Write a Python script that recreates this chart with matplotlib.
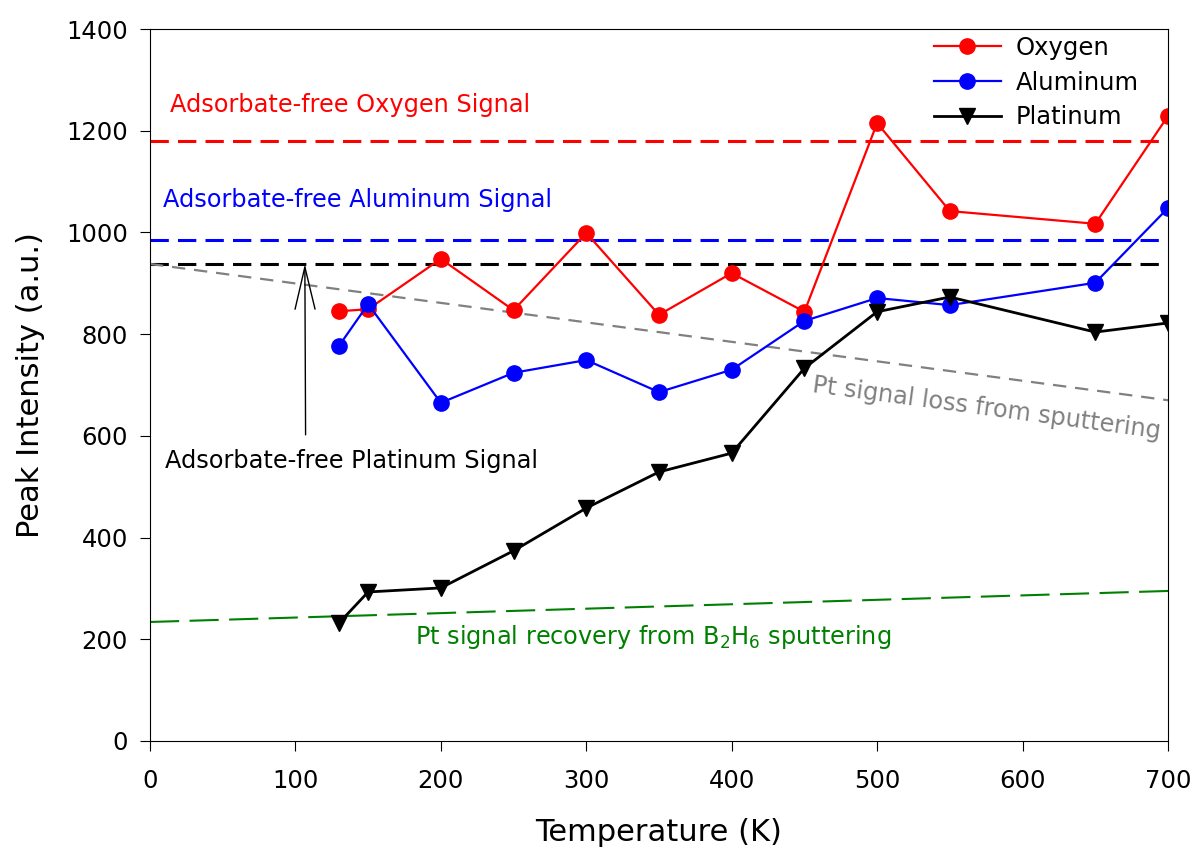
import numpy as np
import matplotlib
matplotlib.use('Agg')
import matplotlib.pyplot as plt

# temperatures (K)
temps = [130, 150, 200, 250, 300, 350, 400, 450, 500, 550, 650, 700]

# peak intensities (a.u.)
oxygen = [845, 849, 948, 847, 999, 838, 920, 844, 1215, 1042, 1017, 1229]
aluminum = [777, 859, 665, 724, 749, 686, 730, 826, 871, 857, 901, 1048]
platinum = [232, 293, 301, 374, 458, 529, 566, 733, 844, 873, 804, 822]

# adsorbate-free reference levels
ox_free = 1180
al_free = 985
pt_free = 938

# trend lines (start at 0 K, end at 700 K)
loss_x = [0, 700]
loss_y = [938, 670]
recovery_x = [0, 700]
recovery_y = [234, 295]

fig = plt.figure(figsize=(11.95, 8.48), dpi=100)
ax = fig.add_axes([0.1255, 0.1262, 0.8519, 0.8396])

ax.axhline(ox_free, color='red', lw=2.2, dashes=(6, 3))
ax.axhline(al_free, color='blue', lw=2.2, dashes=(6, 3))
ax.axhline(pt_free, color='black', lw=2.2, dashes=(6, 3))
ax.plot(loss_x, loss_y, color='gray', lw=1.6, dashes=(6, 4))
ax.plot(recovery_x, recovery_y, color='green', lw=1.5, dashes=(14, 5))

ax.plot(temps, oxygen, color='red', marker='o', markersize=11, lw=1.6, label='Oxygen')
ax.plot(temps, aluminum, color='blue', marker='o', markersize=11, lw=1.6, label='Aluminum')
ax.plot(temps, platinum, color='black', marker='v', markersize=11, lw=2, label='Platinum')

ax.text(14, 1250, 'Adsorbate-free Oxygen Signal', color='red', fontsize=17.3, va='center')
ax.text(9, 1064, 'Adsorbate-free Aluminum Signal', color='blue', fontsize=17.3, va='center')
ax.text(10, 551, 'Adsorbate-free Platinum Signal', color='black', fontsize=17.3, va='center')
ax.annotate('', xy=(106.5, pt_free), xytext=(107, 602),
            arrowprops=dict(arrowstyle='->,head_length=1.9,head_width=0.45',
                            color='black', lw=1, shrinkA=0, shrinkB=0,
                            mutation_scale=16))
ax.text(575, 655, 'Pt signal loss from sputtering', color='gray', fontsize=17.3,
        rotation=-7.6, ha='center', va='center', rotation_mode='anchor')
ax.text(346, 204, 'Pt signal recovery from B$_2$H$_6$ sputtering', color='green',
        fontsize=17.3, ha='center', va='center')

ax.set_xlim(0, 700)
ax.set_ylim(0, 1400)
ax.set_xticks(np.arange(0, 701, 100))
ax.set_yticks(np.arange(0, 1401, 200))
ax.tick_params(labelsize=17.5, direction='out', length=7)
ax.tick_params(axis='x', pad=13)
ax.tick_params(axis='y', pad=9)
ax.set_xlabel('Temperature (K)', fontsize=22, labelpad=18)
ax.set_ylabel('Peak Intensity (a.u.)', fontsize=22, labelpad=15)

ax.legend(loc='upper right', bbox_to_anchor=(1 - 15 / 1018, 1 + 8 / 712),
          frameon=False, fontsize=17.5, handlelength=2.75,
          handletextpad=0.6, borderaxespad=0.2, labelspacing=0.45)

plt.savefig('out.png', dpi=100)
